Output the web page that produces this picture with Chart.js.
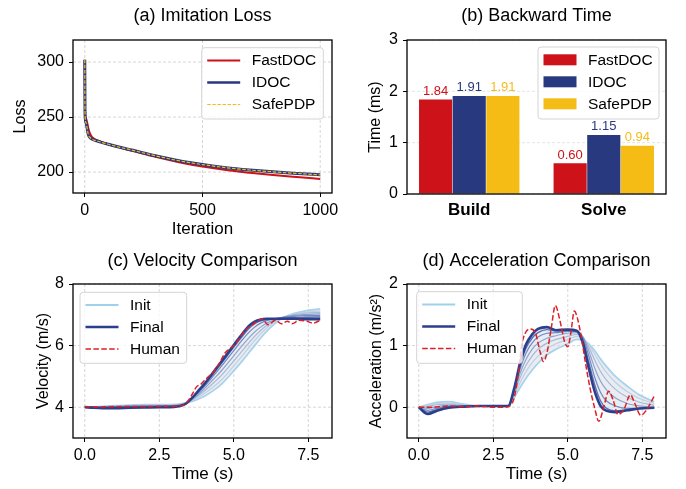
<!DOCTYPE html>
<html>
<head>
<meta charset="utf-8">
<script src="https://cdn.jsdelivr.net/npm/chart.js@4.4.0/dist/chart.umd.min.js"></script>
<style>
  html, body { margin: 0; padding: 0; background: #fff; }
  #wrap { position: relative; width: 686px; height: 489px; }
  canvas { position: absolute; }
</style>
</head>
<body>
<div id="wrap">
  <canvas id="lossChart" width="343" height="245" style="left:0;top:0"></canvas>
  <canvas id="timeChart" width="343" height="245" style="left:343px;top:0"></canvas>
  <canvas id="velChart" width="343" height="244" style="left:0;top:245px"></canvas>
  <canvas id="accChart" width="343" height="244" style="left:343px;top:245px"></canvas>
</div>
<script>
// ---- data ----
const methods = ['FastDOC', 'IDOC', 'SafePDP'];
const runNames = ['Init', 'Final', 'Human'];

// (a) imitation loss
const iters    = [0, 1, 5, 10, 15, 20, 30, 50, 75, 100, 150, 200, 300, 400, 500, 600, 700, 800, 900, 1000];
const lossFast = [302, 256, 249, 245, 240, 236, 232, 229, 227, 225.3, 222.2, 219.4, 213.8, 209, 205, 201.8, 199.4, 197.3, 195.5, 193.8];
const lossIdoc = [302, 254, 245, 240, 234, 232, 230, 228.5, 226.8, 225.3, 222.5, 220, 214.8, 210.3, 206.8, 204, 201.9, 200.2, 198.8, 197.5];
const lossSafe = [302, 254, 245, 240, 234, 232, 230, 228.5, 226.8, 225.3, 222.5, 220, 214.8, 210.3, 206.8, 204, 201.9, 200.2, 198.8, 197.5];
const iterTicks = [0, 500, 1000];
const lossTicks = [200, 250, 300];

// (b) backward time
const stages   = ['Build', 'Solve'];
const timeFast = [1.84, 0.60];
const timeIdoc = [1.91, 1.15];
const timeSafe = [1.91, 0.94];
const msTicks  = [0, 1, 2, 3];

// (c)/(d) trajectories over learning
const tGrid = [0, 0.3, 0.6, 1.0, 1.5, 2.0, 2.5, 3.0, 3.2, 3.4, 3.6, 3.8, 4.0, 4.3, 4.6, 5.0, 5.3, 5.5, 5.7, 5.9, 6.1, 6.3, 6.6, 7.0, 7.4, 7.9];
const velInit  = [4.00, 4.01, 4.03, 4.05, 4.07, 4.08, 4.08, 4.09, 4.11, 4.14, 4.19, 4.26, 4.35, 4.53, 4.76, 5.18, 5.52, 5.76, 6.00, 6.24, 6.46, 6.65, 6.87, 7.04, 7.13, 7.19];
const velMid1  = [4.00, 4.01, 4.02, 4.04, 4.06, 4.07, 4.07, 4.08, 4.10, 4.14, 4.22, 4.32, 4.44, 4.65, 4.90, 5.34, 5.69, 5.93, 6.16, 6.38, 6.57, 6.72, 6.89, 7.02, 7.08, 7.13];
const velMid2  = [4.00, 4.00, 4.02, 4.03, 4.05, 4.06, 4.06, 4.07, 4.09, 4.14, 4.24, 4.37, 4.52, 4.77, 5.05, 5.50, 5.85, 6.08, 6.30, 6.49, 6.65, 6.77, 6.90, 7.00, 7.05, 7.08];
const velMid3  = [4.00, 4.00, 4.01, 4.02, 4.04, 4.05, 4.05, 4.06, 4.08, 4.13, 4.25, 4.41, 4.59, 4.89, 5.20, 5.67, 6.02, 6.24, 6.44, 6.60, 6.73, 6.81, 6.91, 6.98, 7.01, 7.03];
const velMid4  = [4.00, 4.00, 4.00, 4.01, 4.02, 4.03, 4.04, 4.04, 4.06, 4.12, 4.27, 4.46, 4.66, 5.00, 5.35, 5.84, 6.20, 6.42, 6.60, 6.73, 6.81, 6.86, 6.91, 6.95, 6.97, 6.98];
const velMid5  = [4.00, 3.99, 3.99, 4.00, 4.01, 4.02, 4.02, 4.03, 4.05, 4.11, 4.29, 4.50, 4.71, 5.07, 5.44, 5.95, 6.32, 6.55, 6.71, 6.80, 6.84, 6.86, 6.89, 6.91, 6.92, 6.93];
const velFinal = [4.00, 3.98, 3.97, 3.97, 3.98, 3.99, 4.00, 4.01, 4.04, 4.12, 4.30, 4.52, 4.74, 5.12, 5.50, 6.02, 6.40, 6.63, 6.78, 6.85, 6.87, 6.87, 6.87, 6.87, 6.86, 6.86];
const humanVelT = [0, 0.5, 1.0, 1.5, 2.0, 2.5, 3.0, 3.3, 3.5, 3.65, 3.75, 3.9, 4.1, 4.3, 4.5, 4.7, 4.8, 5.0, 5.2, 5.4, 5.6, 5.8, 5.95, 6.15, 6.4, 6.6, 6.8, 6.95, 7.2, 7.45, 7.65, 7.9];
const humanVel  = [4.02, 4.01, 4.02, 4.02, 4.02, 4.03, 4.03, 4.06, 4.25, 4.5, 4.66, 4.75, 4.95, 5.12, 5.4, 5.75, 5.85, 6.0, 6.25, 6.52, 6.65, 6.8, 6.86, 6.68, 6.82, 6.71, 6.79, 6.71, 6.82, 6.79, 6.73, 6.82];

const accInit  = [0.00, 0.04, 0.08, 0.09, 0.05, 0.02, 0.02, 0.02, 0.15, 0.32, 0.47, 0.60, 0.71, 0.85, 0.94, 1.03, 1.10, 1.09, 1.03, 0.92, 0.78, 0.66, 0.50, 0.34, 0.20, 0.09];
const accMid1  = [0.00, 0.03, 0.06, 0.07, 0.04, 0.02, 0.02, 0.02, 0.18, 0.40, 0.58, 0.72, 0.83, 0.95, 1.03, 1.10, 1.15, 1.12, 1.02, 0.86, 0.70, 0.56, 0.40, 0.25, 0.14, 0.06];
const accMid2  = [0.00, 0.01, 0.04, 0.05, 0.03, 0.02, 0.02, 0.02, 0.21, 0.48, 0.68, 0.83, 0.94, 1.04, 1.10, 1.15, 1.18, 1.14, 0.98, 0.77, 0.58, 0.44, 0.29, 0.16, 0.08, 0.03];
const accMid3  = [0.00, -0.02, 0.01, 0.03, 0.02, 0.02, 0.02, 0.02, 0.24, 0.55, 0.78, 0.94, 1.04, 1.12, 1.16, 1.20, 1.21, 1.15, 0.92, 0.64, 0.42, 0.28, 0.15, 0.06, 0.02, 0.00];
const accMid4  = [0.00, -0.05, -0.02, 0.01, 0.01, 0.02, 0.02, 0.02, 0.27, 0.62, 0.88, 1.04, 1.14, 1.20, 1.21, 1.23, 1.23, 1.13, 0.84, 0.49, 0.24, 0.10, 0.02, -0.02, -0.02, -0.01];
const accMid5  = [0.00, -0.08, -0.04, 0.00, 0.01, 0.02, 0.02, 0.02, 0.29, 0.68, 0.96, 1.12, 1.21, 1.26, 1.24, 1.25, 1.24, 1.10, 0.74, 0.37, 0.10, -0.02, -0.06, -0.04, -0.02, -0.01];
const accFinal = [0.00, -0.11, -0.06, -0.01, 0.01, 0.02, 0.02, 0.02, 0.30, 0.72, 1.02, 1.18, 1.27, 1.30, 1.25, 1.26, 1.24, 1.05, 0.64, 0.26, 0.02, -0.06, -0.08, -0.05, -0.02, -0.01];
const humanAccT = [0, 0.5, 1.0, 1.5, 2.0, 2.5, 2.9, 3.05, 3.2, 3.35, 3.45, 3.57, 3.73, 3.9, 4.07, 4.18, 4.3, 4.45, 4.58, 4.73, 4.9, 5.0, 5.1, 5.22, 5.32, 5.45, 5.6, 5.75, 5.9, 6.04, 6.2, 6.37, 6.52, 6.68, 6.88, 7.1, 7.25, 7.45, 7.62, 7.9];
const humanAcc  = [0.0, 0.0, 0.02, 0.01, 0.02, 0.0, 0.0, 0.02, 0.15, 0.58, 1.0, 1.2, 1.27, 1.22, 0.9, 0.74, 0.88, 1.3, 1.65, 1.42, 1.05, 0.98, 1.2, 1.56, 1.45, 1.15, 0.7, 0.3, -0.01, -0.23, -0.01, 0.26, 0.12, -0.12, -0.04, 0.2, 0.06, -0.13, -0.06, 0.18];

const secTicks = [0, 2.5, 5, 7.5];
const velTicks = [4, 6, 8];
const accTicks = [0, 1, 2];

// ---- styling ----
const FONT = '"Liberation Sans", Arial, Helvetica, sans-serif';
Chart.defaults.font.family = FONT;
Chart.defaults.color = '#000';
Chart.defaults.animation = false;

const RED = '#cd1219', BLUE = '#28397f', YEL = '#f5bc16';
const HUMAN = '#dc2026';
const runColors = ['#a9d3ec', '#bfd0e2', '#a7bad9', '#8ea4ce', '#7489c1', '#5a72b3', '#2b3f8c'];
const runWidths = [1.8, 1.2, 1.2, 1.2, 1.2, 1.4, 2.6];

const pts = (xs, ys) => xs.map((x, i) => ({x: x, y: ys[i]}));

function axis(pos, min, max, vals, fmt, title, titlePad, fit) {
  const left = pos === 'left';
  return {
    type: 'linear', position: pos, min: min, max: max,
    afterBuildTicks: s => { s.ticks = vals.map(v => ({value: v})); },
    afterFit: s => { if (left) s.width = fit; else s.height = fit; },
    ticks: {font: {size: 16}, padding: left ? 5 : 4, maxRotation: 0, autoSkip: false, callback: fmt},
    grid: {drawOnChartArea: false, drawTicks: true, tickLength: 4, tickColor: '#000', tickWidth: 1},
    border: {display: false},
    title: title ? {
      display: true, text: title,
      font: {size: left ? 16 : 17},
      padding: left ? {top: titlePad, bottom: 0} : {top: 0, bottom: titlePad}
    } : {display: false}
  };
}

// frame, dashed grid, legend box, title, bar labels
const panelPlugin = {
  id: 'panel',
  beforeDatasetsDraw(chart, args, o) {
    const {ctx, chartArea: a, scales} = chart;
    ctx.save();
    ctx.strokeStyle = o.gridColor || '#cccccc';
    ctx.lineWidth = 0.8;
    ctx.setLineDash([3, 2]);
    if (o.gridX) scales.x.ticks.forEach(t => {
      const px = scales.x.getPixelForValue(t.value);
      ctx.beginPath(); ctx.moveTo(px, a.top); ctx.lineTo(px, a.bottom); ctx.stroke();
    });
    if (o.gridY) scales.y.ticks.forEach(t => {
      const py = scales.y.getPixelForValue(t.value);
      ctx.beginPath(); ctx.moveTo(a.left, py); ctx.lineTo(a.right, py); ctx.stroke();
    });
    ctx.restore();
  },
  afterDatasetsDraw(chart, args, o) {
    const {ctx, chartArea: a} = chart;
    ctx.save();
    if (o.barLabels) {
      ctx.font = '13px ' + FONT;
      ctx.textAlign = 'center';
      ctx.textBaseline = 'alphabetic';
      chart.data.datasets.forEach((ds, i) => {
        chart.getDatasetMeta(i).data.forEach((bar, j) => {
          ctx.fillStyle = ds.backgroundColor;
          ctx.fillText(ds.data[j].y.toFixed(2), bar.x, bar.y - 4.5);
        });
      });
    }
    ctx.strokeStyle = '#000';
    ctx.lineWidth = 1.3;
    ctx.setLineDash([]);
    ctx.strokeRect(a.left, a.top, a.right - a.left, a.bottom - a.top);

    const lg = o.legend;
    if (lg) {
      const bx = a.left + lg.x, by = a.top + lg.y;
      ctx.beginPath();
      ctx.roundRect(bx, by, lg.w, lg.h, 3);
      ctx.fillStyle = 'rgba(255,255,255,0.8)';
      ctx.fill();
      ctx.strokeStyle = '#d4d4d4';
      ctx.lineWidth = 1;
      ctx.stroke();
      ctx.font = '15.5px ' + FONT;
      ctx.textAlign = 'left';
      ctx.textBaseline = 'middle';
      lg.items.forEach((it, i) => {
        const yy = by + 12.8 + 22 * i;
        if (it.patch) {
          ctx.fillStyle = it.color;
          ctx.fillRect(bx + 5.5, yy - 5.5, 33, 11);
        } else {
          ctx.strokeStyle = it.color;
          ctx.lineWidth = it.width;
          ctx.setLineDash(it.dash || []);
          ctx.beginPath(); ctx.moveTo(bx + 5.5, yy); ctx.lineTo(bx + 38.5, yy); ctx.stroke();
          ctx.setLineDash([]);
        }
        ctx.fillStyle = '#000';
        ctx.fillText(it.text, bx + 50, yy + 0.5);
      });
    }
    ctx.font = '18px ' + FONT;
    ctx.fillStyle = '#000';
    ctx.textAlign = 'center';
    ctx.textBaseline = 'middle';
    ctx.fillText(o.title, (a.left + a.right) / 2, 16);
    ctx.restore();
  }
};
Chart.register(panelPlugin);

const baseOpts = {
  responsive: false,
  animation: false,
  events: [],
  plugins: {legend: {display: false}, tooltip: {enabled: false}}
};

// (a) loss
new Chart(document.getElementById('lossChart'), {
  type: 'line',
  data: {
    datasets: [
      {label: methods[0], data: pts(iters, lossFast), borderColor: RED, borderWidth: 2, order: 2},
      {label: methods[1], data: pts(iters, lossIdoc), borderColor: BLUE, borderWidth: 3, order: 1},
      {label: methods[2], data: pts(iters, lossSafe), borderColor: YEL, borderWidth: 1.2, borderDash: [3.5, 1.6], order: 0}
    ].map(d => Object.assign(d, {pointRadius: 0, cubicInterpolationMode: 'monotone', fill: false}))
  },
  options: Object.assign({}, baseOpts, {
    layout: {padding: {left: 0, top: 40, right: 11, bottom: 0}},
    scales: {
      x: axis('bottom', -50, 1050, iterTicks, v => v, 'Iteration', 5.3, 52),
      y: axis('left', 181, 320, lossTicks, v => v, 'Loss', 11.2, 73)
    },
    plugins: Object.assign({}, baseOpts.plugins, {
      panel: {
        title: '(a) Imitation Loss', gridX: true, gridY: true,
        legend: {x: 128.7, y: 7.7, w: 121.6, h: 71.3, items: [
          {text: methods[0], color: RED, width: 2},
          {text: methods[1], color: BLUE, width: 2.5},
          {text: methods[2], color: YEL, width: 1, dash: [3.5, 1.6]}
        ]}
      }
    })
  })
});

// (b) backward time
const barPts = vals => stages.map((s, i) => ({x: i, y: vals[i]}));
new Chart(document.getElementById('timeChart'), {
  type: 'bar',
  data: {
    datasets: [
      {label: methods[0], data: barPts(timeFast), backgroundColor: RED},
      {label: methods[1], data: barPts(timeIdoc), backgroundColor: BLUE},
      {label: methods[2], data: barPts(timeSafe), backgroundColor: YEL}
    ].map(d => Object.assign(d, {categoryPercentage: 0.75, barPercentage: 0.985, borderWidth: 0}))
  },
  options: Object.assign({}, baseOpts, {
    layout: {padding: {left: 0, top: 40, right: 20, bottom: 0}},
    scales: {
      x: {
        type: 'linear', position: 'bottom', min: -0.4625, max: 1.4625, offset: false,
        afterBuildTicks: s => { s.ticks = stages.map((c, i) => ({value: i})); },
        afterFit: s => { s.height = 51; },
        ticks: {font: {size: 17, weight: 'bold'}, padding: 6, maxRotation: 0, autoSkip: false, callback: v => stages[v]},
        grid: {display: false, drawTicks: false, offset: false},
        border: {display: false}
      },
      y: axis('left', 0, 3, msTicks, v => v, 'Time (ms)', 23.4, 64)
    },
    plugins: Object.assign({}, baseOpts.plugins, {
      panel: {
        title: '(b) Backward Time', gridY: true, gridColor: '#dddddd', barLabels: true,
        legend: {x: 131, y: 7, w: 121, h: 72, items: [
          {text: methods[0], color: RED, patch: true},
          {text: methods[1], color: BLUE, patch: true},
          {text: methods[2], color: YEL, patch: true}
        ]}
      }
    })
  })
});

// (c)/(d) trajectory panels
function runSets(curves, humanT, humanY) {
  const sets = curves.map((ys, k) => ({
    label: k === 0 ? runNames[0] : (k === curves.length - 1 ? runNames[1] : 'iter ' + k),
    data: pts(tGrid, ys),
    borderColor: runColors[k],
    borderWidth: runWidths[k],
    order: curves.length - k,
    fill: false
  }));
  sets[0].fill = {target: curves.length - 1, above: 'rgba(212,218,228,0.5)', below: 'rgba(212,218,228,0.5)'};
  sets.push({label: runNames[2], data: pts(humanT, humanY), borderColor: HUMAN, borderWidth: 1.5, borderDash: [5.5, 2.4], order: 0, fill: false});
  return sets.map(d => Object.assign(d, {pointRadius: 0, cubicInterpolationMode: 'monotone'}));
}
const runLegend = [
  {text: runNames[0], color: '#9fd0ec', width: 2},
  {text: runNames[1], color: '#2b3f8c', width: 2.5},
  {text: runNames[2], color: HUMAN, width: 1.5, dash: [5.5, 2.4]}
];
const fmt1 = v => v.toFixed(1);

new Chart(document.getElementById('velChart'), {
  type: 'line',
  data: {datasets: runSets([velInit, velMid1, velMid2, velMid3, velMid4, velMid5, velFinal], humanVelT, humanVel)},
  options: Object.assign({}, baseOpts, {
    layout: {padding: {left: 0, top: 39, right: 11, bottom: 0}},
    scales: {
      x: axis('bottom', -0.395, 8.295, secTicks, fmt1, 'Time (s)', 4.3, 51),
      y: axis('left', 3, 8, velTicks, v => v, 'Velocity (m/s)', 33.7, 73)
    },
    plugins: Object.assign({}, baseOpts.plugins, {
      panel: {
        title: '(c) Velocity Comparison', gridX: true, gridY: true,
        legend: {x: 7, y: 8.3, w: 106.7, h: 71, items: runLegend}
      }
    })
  })
});

new Chart(document.getElementById('accChart'), {
  type: 'line',
  data: {datasets: runSets([accInit, accMid1, accMid2, accMid3, accMid4, accMid5, accFinal], humanAccT, humanAcc)},
  options: Object.assign({}, baseOpts, {
    layout: {padding: {left: 0, top: 39, right: 20, bottom: 0}},
    scales: {
      x: axis('bottom', -0.395, 8.295, secTicks, fmt1, 'Time (s)', 4.3, 51),
      y: axis('left', -0.5, 2, accTicks, v => v, 'Acceleration (m/s²)', 23.7, 64)
    },
    plugins: Object.assign({}, baseOpts.plugins, {
      panel: {
        title: '(d) Acceleration Comparison', gridX: true, gridY: true,
        legend: {x: 9.7, y: 7.7, w: 105.6, h: 71.6, items: runLegend}
      }
    })
  })
});
</script>
</body>
</html>
